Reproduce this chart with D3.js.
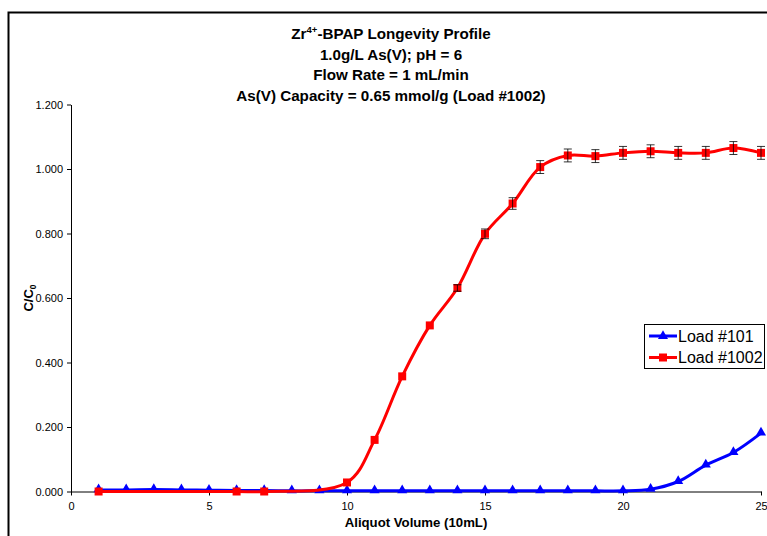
<!DOCTYPE html>
<html><head><meta charset="utf-8">
<script src="https://cdn.jsdelivr.net/npm/d3@7/dist/d3.min.js"></script>
<style>body{margin:0;background:#fff}svg{display:block}text{font-family:Arial,"Liberation Sans",sans-serif}</style>
</head><body>
<svg id="c" width="767" height="536"></svg>
<script>
// Data
const xTicks = [0, 5, 10, 15, 20, 25];
const yTicks = [0, 0.2, 0.4, 0.6, 0.8, 1.0, 1.2];
const load101X = [1,2,3,4,5,6,7,8,9,10,11,12,13,14,15,16,17,18,19,20,21,22,23,24,25];
const load101Y = [0.005,0.005,0.006,0.005,0.004,0.003,0.003,0.002,0.002,0.002,0.002,0.002,0.002,0.002,0.002,0.002,0.002,0.002,0.002,0.002,0.007,0.031,0.082,0.121,0.181];
const load1002X = [1,6,7,10,11,12,13,14,15,16,17,18,19,20,21,22,23,24,25];
const load1002Y = [0.000,0.000,0.000,0.028,0.160,0.357,0.515,0.631,0.799,0.893,1.006,1.042,1.040,1.050,1.055,1.050,1.050,1.065,1.050];
const load1002Err = [0,0,0,0.004,0.005,0.005,0.006,0.010,0.015,0.018,0.020,0.020,0.020,0.020,0.020,0.020,0.020,0.020,0.020];
const titleLines = ["1.0g/L As(V); pH = 6", "Flow Rate = 1 mL/min", "As(V) Capacity = 0.65 mmol/g (Load #1002)"];

const svg = d3.select("#c");
// chart border
svg.append("path").attr("d","M8.5,536 L8.5,12.5 L767,12.5").attr("fill","none").attr("stroke","#000").attr("stroke-width",2);

const x = d3.scaleLinear().domain([0,25]).range([71,761]);
const y = d3.scaleLinear().domain([0,1.2]).range([491.5,104.5]);

// axes
const gx = svg.append("g").attr("transform","translate(0,491.5)")
  .call(d3.axisBottom(x).tickValues(xTicks).tickSize(4).tickSizeOuter(0).tickFormat(d3.format("d")));
const gy = svg.append("g").attr("transform","translate(71,0)")
  .call(d3.axisLeft(y).tickValues(yTicks).tickSize(4).tickSizeOuter(0).tickFormat(d3.format(".3f")));
[gx,gy].forEach(g=>{
  g.select(".domain").attr("stroke","#000");
  g.selectAll(".tick line").attr("stroke","#000");
  g.selectAll(".tick text").attr("font-size",11).attr("font-family","Arial, 'Liberation Sans', sans-serif").attr("fill","#000");
});
gx.selectAll(".tick text").attr("dy",0).attr("y",18.5);
gy.selectAll(".tick text").attr("x",-8);

// axis titles
svg.append("text").attr("x",416).attr("y",527).attr("text-anchor","middle").attr("font-size",13.2).attr("font-weight","bold").text("Aliquot Volume (10mL)");
const yt = svg.append("text").attr("transform","translate(33,298) rotate(-90)").attr("text-anchor","middle").attr("font-size",13).attr("font-weight","bold");
yt.append("tspan").text("C/C");
yt.append("tspan").attr("font-size",8.5).attr("dy",3).text("0");

// title
const t1 = svg.append("text").attr("x",391).attr("y",39).attr("text-anchor","middle").attr("font-size",15.2).attr("font-weight","bold");
t1.append("tspan").text("Zr");
t1.append("tspan").attr("font-size",9.5).attr("dy",-6).text("4+");
t1.append("tspan").attr("dy",6).text("-BPAP Longevity Profile");
titleLines.forEach((s,i)=>{
  svg.append("text").attr("x",391).attr("y",60+i*20.3).attr("text-anchor","middle").attr("font-size",15.2).attr("font-weight","bold").text(s);
});

const line = d3.line().x(d=>x(d[0])).y(d=>y(d[1])).curve(d3.curveCatmullRom.alpha(0.5));
const blue = load101X.map((v,i)=>[v,load101Y[i]]);
const red = load1002X.map((v,i)=>[v,load1002Y[i],load1002Err[i]]);

const tri = d3.symbol().type(d3.symbolTriangle).size(44);
const sq = d3.symbol().type(d3.symbolSquare).size(64);

// blue series
svg.append("path").attr("d",line(blue)).attr("fill","none").attr("stroke","#0000FF").attr("stroke-width",3);
svg.append("g").selectAll("path").data(blue).join("path")
  .attr("d",tri).attr("transform",d=>`translate(${x(d[0])},${y(d[1])-0.5})`).attr("fill","#0000FF");

// red series
svg.append("path").attr("d",line(red)).attr("fill","none").attr("stroke","#FF0000").attr("stroke-width",3);
svg.append("g").selectAll("path").data(red).join("path")
  .attr("d",sq).attr("transform",d=>`translate(${x(d[0])},${y(d[1])})`).attr("fill","#FF0000");
// error bars
const eb = svg.append("g").attr("stroke","#000").attr("stroke-width",1).attr("fill","none");
red.filter(d=>d[2]>0.007).forEach(d=>{
  const cx = x(d[0]), y1 = y(d[1]+d[2]), y2 = y(d[1]-d[2]);
  eb.append("path").attr("d",`M${cx},${y1}V${y2}M${cx-4},${y1}H${cx+4}M${cx-4},${y2}H${cx+4}`).attr("opacity",0.8);
});

// legend
const lg = svg.append("g");
lg.append("rect").attr("x",644.5).attr("y",324.5).attr("width",120).attr("height",44).attr("fill","#fff").attr("stroke","#000").attr("stroke-width",1);
const leg = [["Load #101","#0000FF",tri],["Load #1002","#FF0000",sq]];
leg.forEach((d,i)=>{
  const yy = 336+i*21.5;
  lg.append("line").attr("x1",649).attr("x2",677).attr("y1",yy).attr("y2",yy).attr("stroke",d[1]).attr("stroke-width",3);
  lg.append("path").attr("d",d[2]).attr("transform",`translate(663,${yy})`).attr("fill",d[1]);
  lg.append("text").attr("x",678).attr("y",yy+5.5).attr("font-size",16).text(d[0]);
});
</script>
</body></html>
